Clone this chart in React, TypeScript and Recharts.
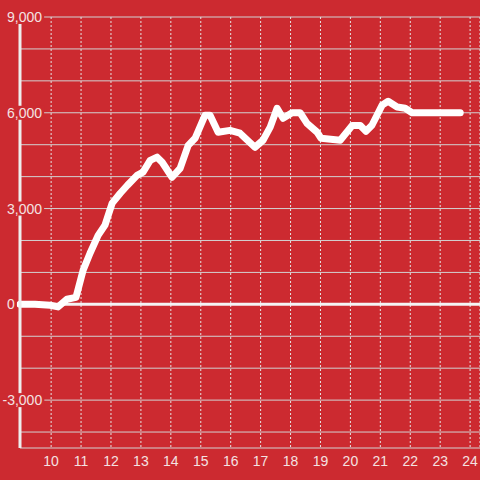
import React from 'react';
import { LineChart, Line, XAxis, YAxis, CartesianGrid, ReferenceLine } from 'recharts';

// hour of day (decimal) and the plotted running value
const hours = [
  8.96, 9.46, 9.97, 10.23, 10.53, 10.83, 11.07, 11.3, 11.57, 11.8,
  12.04, 12.31, 12.55, 12.87, 13.07, 13.31, 13.54, 13.71, 14.04, 14.31,
  14.58, 14.81, 15.14, 15.31, 15.58, 15.98, 16.31, 16.81, 17.08, 17.32,
  17.55, 17.75, 18.05, 18.32, 18.55, 18.89, 19.02, 19.66, 20.06, 20.33,
  20.52, 20.72, 21.06, 21.26, 21.56, 21.83, 22.06, 23.67,
];
const values = [
  0, 0, -30, -80, 160, 220, 1070, 1600, 2160, 2480,
  3170, 3480, 3730, 4040, 4140, 4510, 4610, 4450, 3980, 4260,
  4980, 5200, 5920, 5920, 5390, 5450, 5360, 4920, 5140, 5550,
  6140, 5830, 6000, 6000, 5670, 5390, 5200, 5140, 5600, 5600,
  5420, 5610, 6240, 6360, 6180, 6140, 6000, 6000,
];

const xTicks = [10, 11, 12, 13, 14, 15, 16, 17, 18, 19, 20, 21, 22, 23, 24];
const yTicks = [-4000, -3000, -2000, -1000, 0, 1000, 2000, 3000, 4000, 5000, 6000, 7000, 8000, 9000];
const yLabels = [-3000, 0, 3000, 6000, 9000];

const BG = '#cc2a30';
const LABEL = '#f4e2e2';
const FONT = '"Liberation Sans", Arial, sans-serif';

const data = hours.map((h, i) => ({ h, v: values[i] }));

// rough text width for 14px Liberation Sans
const textWidth = (s: string) =>
  s.split('').reduce((w, c) => w + (c === ',' ? 3.9 : c === '-' ? 4.7 : 7.8), 0);

const YTick = (props: any) => {
  const { y, payload } = props;
  if (!yLabels.includes(payload.value)) return null;
  const label = payload.value.toLocaleString('en-US');
  const start = payload.value < 0 ? 2.5 : 7;
  const w = textWidth(label);
  return (
    <g>
      <rect x={start - 2} y={y - 7} width={w + 4} height={14} fill={BG} />
      <text x={start} y={y + 5} textAnchor="start" fill={LABEL} fontSize={14} fontFamily={FONT}>
        {label}
      </text>
    </g>
  );
};

const XTick = (props: any) => {
  const { x, payload } = props;
  return (
    <text x={x} y={466} textAnchor="middle" fill={LABEL} fontSize={14} fontFamily={FONT}>
      {payload.value}
    </text>
  );
};

export default function App() {
  return (
    <div style={{ position: 'absolute', left: 0, top: 0, width: 480, height: 480, background: BG }}>
      <LineChart width={480} height={480} data={data} margin={{ top: 17, right: 0, left: 0, bottom: 0 }}>
        <CartesianGrid horizontal={true} vertical={false} stroke="#d2d2d2" strokeWidth={1} />
        <CartesianGrid horizontal={false} vertical={true} stroke="#e4e4e4" strokeDasharray="2 2" />
        <XAxis
          dataKey="h"
          type="number"
          domain={[8.96, 24.33]}
          ticks={xTicks}
          axisLine={false}
          tickLine={false}
          height={32}
          tick={<XTick />}
          interval={0}
        />
        <YAxis
          type="number"
          domain={[-4500, 9000]}
          ticks={yTicks}
          width={20}
          axisLine={{ stroke: '#eeeeee', strokeWidth: 3 }}
          tickLine={false}
          tick={<YTick />}
          interval={0}
        />
        <ReferenceLine y={0} stroke="#f4f4f4" strokeWidth={3} />
        <Line
          type="linear"
          dataKey="v"
          stroke="#ffffff"
          strokeWidth={7}
          strokeLinejoin="round"
          strokeLinecap="round"
          dot={false}
          isAnimationActive={false}
        />
      </LineChart>
    </div>
  );
}
